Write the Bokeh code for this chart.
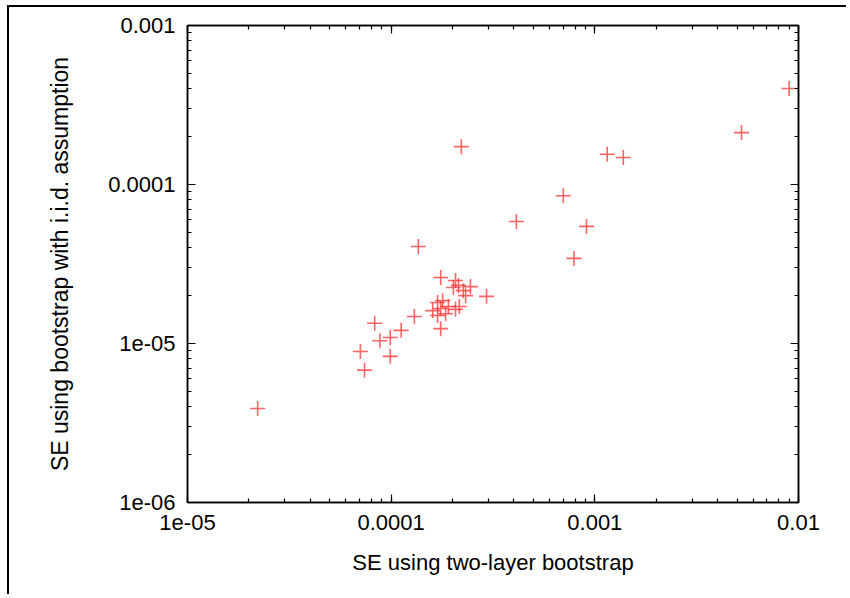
from bokeh.plotting import figure
from bokeh.models import LogAxis, LogTicker, CustomJSTickFormatter, ColumnDataSource
from bokeh.embed import file_html
from bokeh.resources import INLINE

# --- data ---
se_two_layer = [
    2.21e-5, 7.06e-5, 7.4e-5, 8.3e-5, 8.8e-5, 9.9e-5, 9.9e-5, 1.12e-4, 1.30e-4, 1.36e-4,
    1.75e-4, 1.75e-4, 2.21e-4, 2.94e-4, 4.12e-4, 7.0e-4, 7.9e-4, 9.1e-4, 1.15e-3, 1.38e-3,
    5.25e-3, 9.0e-3,
    2.07e-4, 2.14e-4, 2.02e-4, 2.26e-4, 2.45e-4, 2.32e-4, 1.69e-4, 1.79e-4, 1.60e-4,
    1.75e-4, 1.85e-4, 2.07e-4, 1.69e-4, 1.91e-4, 2.16e-4,
]
se_iid = [
    3.9e-6, 8.9e-6, 6.8e-6, 1.34e-5, 1.04e-5, 1.09e-5, 8.3e-6, 1.21e-5, 1.48e-5, 4.07e-5,
    1.24e-5, 2.60e-5, 1.73e-4, 1.98e-5, 5.85e-5, 8.5e-5, 3.43e-5, 5.45e-5, 1.55e-4, 1.48e-4,
    2.12e-4, 4.02e-4,
    2.49e-5, 2.32e-5, 2.25e-5, 2.15e-5, 2.28e-5, 2.00e-5, 1.81e-5, 1.86e-5, 1.61e-5,
    1.66e-5, 1.54e-5, 1.64e-5, 1.50e-5, 1.71e-5, 1.71e-5,
]
x_tick_values = [1e-5, 1e-4, 1e-3, 1e-2]
x_tick_labels = ["1e-05", "0.0001", "0.001", "0.01"]
y_tick_values = [1e-6, 1e-5, 1e-4, 1e-3]
y_tick_labels = ["1e-06", "1e-05", "0.0001", "0.001"]
x_label = "SE using two-layer bootstrap"
y_label = "SE using bootstrap with i.i.d. assumption"

FONT = "Liberation Sans"

p = figure(width=839, height=589, x_axis_type="log", y_axis_type="log",
           x_range=(1e-5, 1e-2), y_range=(1e-6, 1e-3),
           output_backend="svg", toolbar_location=None,
           min_border_left=178, min_border_right=50, min_border_top=18, min_border_bottom=94)
p.xgrid.visible = False
p.ygrid.visible = False
p.outline_line_color = "black"
p.outline_line_width = 1.5
p.background_fill_color = "white"
p.border_fill_color = "white"
p.styles = {"border-top": "2px solid black", "border-left": "2px solid black",
            "margin-top": "5px", "margin-left": "7px"}

fmt_code = """
let best = 0, bd = 1e9;
for (let i = 0; i < vals.length; i++) {
  const d = Math.abs(Math.log10(tick) - Math.log10(vals[i]));
  if (d < bd) { bd = d; best = i; }
}
return bd < 0.01 ? labels[best] : "";
"""

def style_axis(ax):
    ax.major_tick_in = 8
    ax.major_tick_out = 0
    ax.minor_tick_in = 4
    ax.minor_tick_out = 0
    ax.axis_line_color = "black"
    ax.axis_line_width = 1.5
    ax.major_tick_line_color = "black"
    ax.minor_tick_line_color = "black"
    ax.major_tick_line_width = 1.2
    ax.minor_tick_line_width = 1.2
    ax.major_label_text_font = FONT
    ax.major_label_text_font_size = "22px"
    ax.major_label_text_color = "black"
    ax.major_label_standoff = 12
    ax.axis_label_text_font = FONT
    ax.axis_label_text_font_size = "22px"
    ax.axis_label_text_font_style = "normal"
    ax.axis_label_text_color = "black"

xax = p.xaxis[0]
xax.ticker = LogTicker(num_minor_ticks=10)
xax.formatter = CustomJSTickFormatter(args=dict(vals=x_tick_values, labels=x_tick_labels), code=fmt_code)
style_axis(xax)
xax.axis_label = x_label
xax.axis_label_standoff = 17

yax = p.yaxis[0]
yax.ticker = LogTicker(num_minor_ticks=10)
yax.formatter = CustomJSTickFormatter(args=dict(vals=y_tick_values, labels=y_tick_labels), code=fmt_code)
style_axis(yax)
yax.axis_label = y_label
yax.axis_label_text_font_size = "23px"
yax.axis_label_standoff = 32

top = LogAxis(ticker=LogTicker(num_minor_ticks=10), formatter=CustomJSTickFormatter(code="return '';"))
style_axis(top)
top.major_label_standoff = 0
p.add_layout(top, "above")

right = LogAxis(ticker=LogTicker(num_minor_ticks=10), formatter=CustomJSTickFormatter(code="return '';"))
style_axis(right)
right.major_label_standoff = 0
p.add_layout(right, "right")

src = ColumnDataSource(dict(x=se_two_layer, y=se_iid))
p.scatter("x", "y", source=src, marker="cross", size=15,
          line_color="#ff3030", line_width=1.6, line_alpha=0.75)

open("out.html", "w").write(file_html(p, INLINE))
